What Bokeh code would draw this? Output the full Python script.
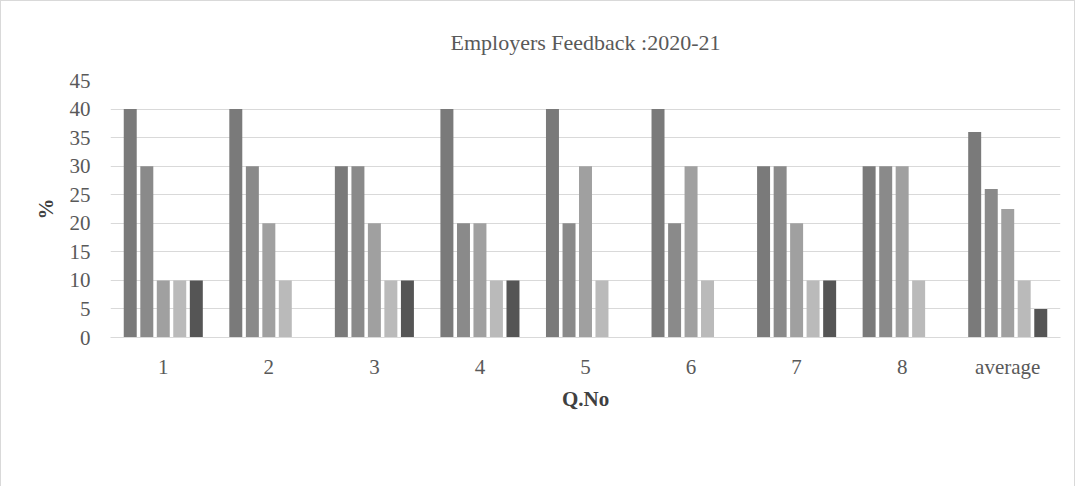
from bokeh.plotting import figure
from bokeh.models import ColumnDataSource, FactorRange, Range1d, Legend, LegendItem, SingleIntervalTicker, Title
from bokeh.transform import dodge
from bokeh.embed import file_html
from bokeh.resources import INLINE

categories = ["1", "2", "3", "4", "5", "6", "7", "8", "average"]
excellent = [40, 40, 30, 40, 40, 40, 30, 30, 36]
very_good = [30, 30, 30, 20, 20, 20, 30, 30, 26]
good = [10, 20, 20, 20, 30, 30, 20, 30, 22.5]
fair = [10, 10, 10, 10, 10, 10, 10, 10, 10]
poor = [10, 0, 10, 10, 0, 0, 10, 0, 5]

series_names = ["Excellent", "Very Good", "Good", "Fair", "Poor"]
series_keys = ["excellent", "very_good", "good", "fair", "poor"]
colors = ["#7a7a7a", "#8a8a8a", "#a0a0a0", "#bababa", "#555555"]

source = ColumnDataSource(dict(cat=categories, excellent=excellent, very_good=very_good,
                               good=good, fair=fair, poor=poor))

FONT = "Liberation Serif"

p = figure(frame_width=950, frame_height=257, x_range=FactorRange(*categories, range_padding=0),
           y_range=Range1d(0, 45), output_backend="svg", toolbar_location=None,
           min_border_left=109, min_border_right=14, min_border_top=79, min_border_bottom=10)

p.title.text = "Employers Feedback :2020-21"
p.title.align = "center"
p.title.text_font = FONT
p.title.text_font_size = "22px"
p.title.text_font_style = "normal"
p.title.text_color = "#595959"
p.title.standoff = 52

offsets = [-0.313, -0.156, 0.0, 0.156, 0.313]
renderers = []
for key, off, col in zip(series_keys, offsets, colors):
    r = p.vbar(x=dodge("cat", off, range=p.x_range), top=key, width=0.123, source=source,
               fill_color=col, line_color=None)
    renderers.append(r)

p.outline_line_color = None
p.background_fill_color = "white"
p.border_fill_color = "white"

p.xgrid.grid_line_color = None
p.ygrid.grid_line_color = "#d9d9d9"
p.ygrid.grid_line_width = 1

p.yaxis.ticker = SingleIntervalTicker(interval=5)
p.yaxis.axis_line_color = None
p.yaxis.major_tick_line_color = None
p.yaxis.minor_tick_line_color = None
p.yaxis.major_label_text_font = FONT
p.yaxis.major_label_text_font_size = "21px"
p.yaxis.major_label_text_color = "#595959"
p.yaxis.major_label_standoff = 14
p.yaxis.axis_label = "%"
p.yaxis.axis_label_text_font = FONT
p.yaxis.axis_label_text_font_size = "21px"
p.yaxis.axis_label_text_font_style = "bold"
p.yaxis.axis_label_text_color = "#404040"
p.yaxis.axis_label_standoff = 9

p.xaxis.axis_line_color = "#d9d9d9"
p.xaxis.major_tick_line_color = None
p.xaxis.minor_tick_line_color = None
p.xaxis.major_label_text_font = FONT
p.xaxis.major_label_text_font_size = "21px"
p.xaxis.major_label_text_color = "#595959"
p.xaxis.major_label_standoff = 11
p.xaxis.axis_label = "Q.No"
p.xaxis.axis_label_text_font = FONT
p.xaxis.axis_label_text_font_size = "21px"
p.xaxis.axis_label_text_font_style = "bold"
p.xaxis.axis_label_text_color = "#404040"
p.xaxis.axis_label_standoff = 5

spacer = Title(text=" ", text_font_size="14px", standoff=12)
p.add_layout(spacer, "below")

items = [LegendItem(label=n, renderers=[r]) for n, r in zip(series_names, renderers)]
legend = Legend(items=items, orientation="horizontal", location="center",
                label_text_font=FONT, label_text_font_size="22px", label_text_color="#595959",
                glyph_width=12, glyph_height=12, label_standoff=5, spacing=21,
                padding=0, margin=0, border_line_color=None, background_fill_alpha=0)
p.add_layout(legend, "below")

p.styles = {"border": "1px solid #d9d9d9"}

open("out.html", "w").write(file_html(p, INLINE))
